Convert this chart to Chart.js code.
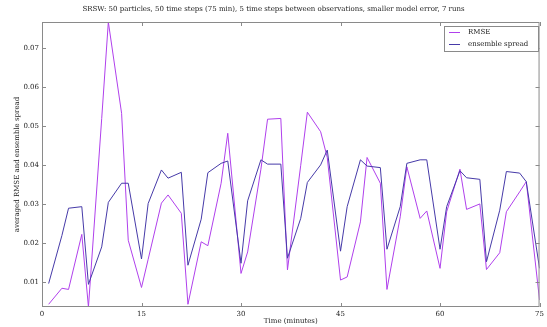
<!DOCTYPE html>
<html>
<head>
<meta charset="utf-8">
<script src="https://cdn.jsdelivr.net/npm/chart.js@4/dist/chart.umd.min.js"></script>
<style>
  html, body { margin: 0; padding: 0; background: #fff; }
</style>
</head>
<body>
<canvas id="myChart" width="547" height="327"></canvas>
<script>
// data: one value per observation step (time in minutes)
const times = [1, 3, 4, 6, 7, 9, 10, 12, 13, 15, 16, 18, 19, 21, 22, 24, 25, 27, 28, 30,
               31, 33, 34, 36, 37, 39, 40, 42, 43, 45, 46, 48, 49, 51, 52, 54, 55, 57, 58, 60,
               61, 63, 64, 66, 67, 69, 70, 72, 73, 75];

const rmse = [0.0044, 0.0085, 0.0082, 0.0223, 0.0037, 0.0520, 0.0767, 0.0533, 0.0208, 0.0087,
              0.0159, 0.0303, 0.0324, 0.0277, 0.0044, 0.0204, 0.0194, 0.0354, 0.0482, 0.0123,
              0.0178, 0.0390, 0.0518, 0.0520, 0.0132, 0.0400, 0.0536, 0.0486, 0.0420, 0.0106,
              0.0114, 0.0255, 0.0420, 0.0354, 0.0082, 0.0268, 0.0396, 0.0264, 0.0283, 0.0136,
              0.0281, 0.0390, 0.0287, 0.0301, 0.0133, 0.0176, 0.0281, 0.0332, 0.0358, 0.0055];

const spread = [0.0097, 0.0220, 0.0290, 0.0294, 0.0095, 0.0191, 0.0305, 0.0354, 0.0354, 0.0160,
                0.0302, 0.0388, 0.0367, 0.0382, 0.0144, 0.0262, 0.0381, 0.0405, 0.0411, 0.0149,
                0.0309, 0.0414, 0.0403, 0.0403, 0.0162, 0.0264, 0.0356, 0.0401, 0.0439, 0.0180,
                0.0294, 0.0414, 0.0398, 0.0394, 0.0185, 0.0294, 0.0405, 0.0414, 0.0414, 0.0185,
                0.0294, 0.0386, 0.0368, 0.0364, 0.0153, 0.0285, 0.0384, 0.0380, 0.0358, 0.0136];

const xTicks = [0, 15, 30, 45, 60, 75];
const yTicks = [0.01, 0.02, 0.03, 0.04, 0.05, 0.06, 0.07];

const TITLE = 'SRSW: 50 particles, 50 time steps (75 min), 5 time steps between observations, smaller model error, 7 runs';
const X_LABEL = 'Time (minutes)';
const Y_LABEL = 'averaged RMSE and ensemble spread';

const RMSE_COLOR = 'rgb(176, 64, 236)';
const SPREAD_COLOR = 'rgb(70, 58, 168)';
const FRAME_COLOR = '#8a8a8a';
const TEXT_COLOR = '#222';
const FONT = 'DejaVu Serif';

const toPoints = (ys) => ys.map((y, i) => ({ x: times[i], y: y }));

// frame, inward ticks, titles and the boxed legend
const decorations = {
    id: 'decorations',
    afterDraw(chart) {
        const c = chart.ctx;
        const a = chart.chartArea;
        const xs = chart.scales.x;
        const ys = chart.scales.y;
        const TICK = 4;

        c.save();
        c.strokeStyle = FRAME_COLOR;
        c.lineWidth = 1;
        c.strokeRect(a.left + 0.5, a.top + 0.5, a.right - a.left - 1, a.bottom - a.top - 1);

        c.beginPath();
        xTicks.forEach(v => {
            const px = Math.round(xs.getPixelForValue(v)) + 0.5;
            c.moveTo(px, a.bottom); c.lineTo(px, a.bottom - TICK);
            c.moveTo(px, a.top); c.lineTo(px, a.top + TICK);
        });
        yTicks.forEach(v => {
            const py = Math.round(ys.getPixelForValue(v)) + 0.5;
            c.moveTo(a.left, py); c.lineTo(a.left + TICK, py);
            c.moveTo(a.right, py); c.lineTo(a.right - TICK, py);
        });
        c.stroke();

        c.fillStyle = TEXT_COLOR;
        c.font = '7px "' + FONT + '"';
        c.textAlign = 'center';
        c.textBaseline = 'middle';
        c.fillText(TITLE, chart.width / 2, 9);
        c.fillText(X_LABEL, (a.left + a.right) / 2, 321);

        c.save();
        c.translate(17, (a.top + a.bottom) / 2);
        c.rotate(-Math.PI / 2);
        c.fillText(Y_LABEL, 0, 0);
        c.restore();

        // legend
        const lx = 444, ly = 26, lw = 94, lh = 25;
        c.fillStyle = '#fff';
        c.fillRect(lx, ly, lw, lh);
        c.strokeStyle = FRAME_COLOR;
        c.strokeRect(lx + 0.5, ly + 0.5, lw, lh);

        const entries = [[chart.data.datasets[0].label, RMSE_COLOR], [chart.data.datasets[1].label, SPREAD_COLOR]];
        entries.forEach(([label, color], i) => {
            const yy = ly + 6.5 + i * 12;
            c.strokeStyle = color;
            c.beginPath();
            c.moveTo(lx + 5, yy); c.lineTo(lx + 16, yy);
            c.stroke();
            c.fillStyle = TEXT_COLOR;
            c.textAlign = 'left';
            c.fillText(label, lx + 24, yy);
        });
        c.restore();
    }
};

const ctx = document.getElementById('myChart');

new Chart(ctx, {
    type: 'line',
    data: {
        datasets: [
            {
                label: 'RMSE',
                data: toPoints(rmse),
                borderColor: RMSE_COLOR,
                borderWidth: 1,
                pointRadius: 0,
                tension: 0,
                order: 1
            },
            {
                label: 'ensemble spread',
                data: toPoints(spread),
                borderColor: SPREAD_COLOR,
                borderWidth: 1,
                pointRadius: 0,
                tension: 0,
                order: 0
            }
        ]
    },
    options: {
        responsive: false,
        animation: false,
        layout: { padding: { top: 22, right: 5, left: 0, bottom: 0 } },
        plugins: {
            legend: { display: false },
            tooltip: { enabled: false },
            title: { display: false }
        },
        scales: {
            x: {
                type: 'linear',
                min: 0,
                max: 75,
                grid: { display: false, drawTicks: false },
                border: { display: false },
                afterBuildTicks: (scale) => { scale.ticks = xTicks.map(v => ({ value: v })); },
                afterFit: (scale) => { scale.height = 20; },
                ticks: {
                    padding: 3,
                    maxRotation: 0,
                    color: TEXT_COLOR,
                    font: { family: FONT, size: 7 }
                }
            },
            y: {
                min: 0.0037,
                max: 0.0767,
                grid: { display: false, drawTicks: false },
                border: { display: false },
                afterBuildTicks: (scale) => { scale.ticks = yTicks.map(v => ({ value: v })); },
                afterFit: (scale) => { scale.width = 42; },
                ticks: {
                    padding: 3,
                    color: TEXT_COLOR,
                    font: { family: FONT, size: 7 },
                    callback: (value) => value.toFixed(2)
                }
            }
        }
    },
    plugins: [decorations]
});
</script>
</body>
</html>
